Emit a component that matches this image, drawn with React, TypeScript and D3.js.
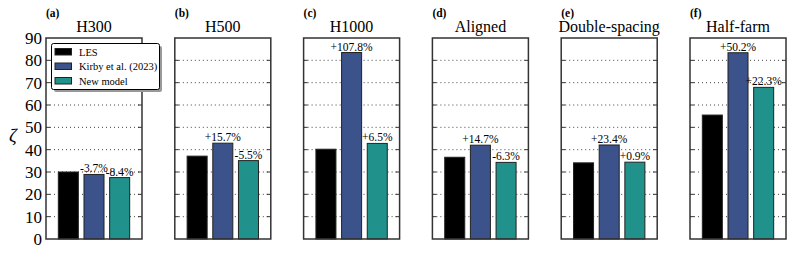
import React from "react";
import * as d3 from "d3";

const panels = ["(a)", "(b)", "(c)", "(d)", "(e)", "(f)"];
const titles = ["H300", "H500", "H1000", "Aligned", "Double-spacing", "Half-farm"];
const series = ["LES", "Kirby et al. (2023)", "New model"];
const colors = ["#000000", "#3b528b", "#21918c"];
const lesValues = [30.0, 37.1, 40.2, 36.6, 34.1, 55.5];
const kirbyValues = [28.9, 42.9, 83.5, 42.0, 42.1, 83.4];
const newValues = [27.5, 35.1, 42.8, 34.3, 34.4, 67.9];
const kirbyLabels = ["-3.7%", "+15.7%", "+107.8%", "+14.7%", "+23.4%", "+50.2%"];
const newLabels = ["-8.4%", "-5.5%", "+6.5%", "-6.3%", "+0.9%", "+22.3%"];
const yTicks = [0, 10, 20, 30, 40, 50, 60, 70, 80, 90];
const gridTicks = [10, 20, 30, 40, 50, 60, 70, 80];

const W = 793, H = 257;
const plotTop = 38, plotBottom = 239;
const ff = { fontFamily: "Liberation Serif" };

export default function App() {
  const px = d3.scaleBand<number>().domain(d3.range(6)).range([46, 786]).paddingInner(0.2547);
  const bw = px.bandwidth();
  const y = d3.scaleLinear().domain([0, 90]).range([plotBottom, plotTop]);
  const bx = d3.scaleBand<number>().domain([0, 1, 2]).range([0, bw]).paddingInner(0.22).paddingOuter(0.48);
  const data = [lesValues, kirbyValues, newValues];

  return (
    <svg width={W} height={H} style={{ position: "absolute", left: 0, top: 0, background: "#fff", ...ff }}>
      {panels.map((p, i) => {
        const x0 = px(i)!;
        return (
          <g key={p}>
            <text x={x0} y={17} fontSize={11.5} fontWeight="bold" style={ff}>{p}</text>
            <text x={x0 + bw / 2} y={32} fontSize={16} textAnchor="middle" style={ff}>{titles[i]}</text>
            {gridTicks.map((t) => (
              <g key={t}>
                <line x1={x0} x2={x0 + bw} y1={y(t)} y2={y(t)} stroke="#444" strokeWidth={1} strokeDasharray="1,3" />
                <line x1={x0} x2={x0 + 4} y1={y(t)} y2={y(t)} stroke="#333" strokeWidth={1} />
                <line x1={x0 + bw - 4} x2={x0 + bw} y1={y(t)} y2={y(t)} stroke="#333" strokeWidth={1} />
              </g>
            ))}
            {data.map((vals, s) => (
              <rect key={s} x={x0 + bx(s)!} y={y(vals[i])} width={bx.bandwidth()}
                height={y(0) - y(vals[i])} fill={colors[s]} stroke="#222" strokeWidth={1} />
            ))}
            <text x={x0 + bx(1)! + bx.bandwidth() / 2} y={y(kirbyValues[i]) - 2} fontSize={11.5} textAnchor="middle" style={ff}>{kirbyLabels[i]}</text>
            <text x={x0 + bx(2)! + bx.bandwidth() / 2} y={y(newValues[i]) - 2} fontSize={11.5} textAnchor="middle" style={ff}>{newLabels[i]}</text>
            <rect x={x0} y={plotTop} width={bw} height={plotBottom - plotTop} fill="none" stroke="#333" strokeWidth={1.5} />
          </g>
        );
      })}
      {yTicks.map((t) => (
        <text key={t} x={42} y={y(t)} dy="0.35em" fontSize={17} textAnchor="end" style={ff}>{t}</text>
      ))}
      <text x={9} y={142} fontSize={19} fontStyle="italic" style={ff}>ζ</text>
      <g>
        <rect x={54} y={46} width={108} height={46} fill="#999" rx={2} />
        <rect x={51.5} y={43.5} width={108} height={46} fill="#fff" stroke="#000" strokeWidth={1} rx={2} />
        {series.map((s, k) => (
          <g key={s}>
            <rect x={55} y={48.5 + k * 14.5} width={16.5} height={6.5} fill={colors[k]} stroke="#222" strokeWidth={1} />
            <text x={79} y={55.5 + k * 14.5} fontSize={10.5} style={ff}>{s}</text>
          </g>
        ))}
      </g>
    </svg>
  );
}
